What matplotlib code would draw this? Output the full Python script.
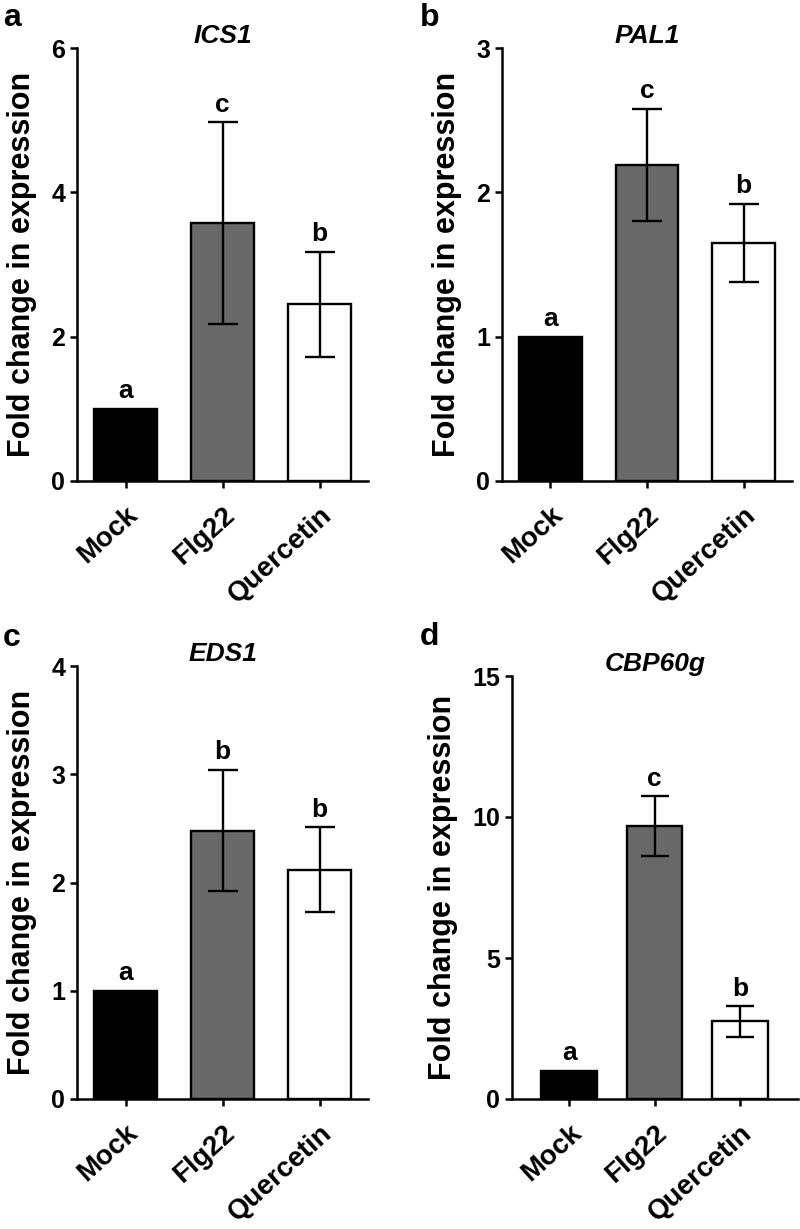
import numpy as np
import matplotlib
matplotlib.use("Agg")
import matplotlib.pyplot as plt

plt.rcParams['font.family'] = ['Liberation Sans', 'DejaVu Sans']
plt.rcParams['font.weight'] = 'bold'

# treatments and colours
groups = ['Mock', 'Flg22', 'Quercetin']
bar_colors = ['#000000', '#686868', '#ffffff']

# gene panels
panel_letters = ['a', 'b', 'c', 'd']
genes = ['ICS1', 'PAL1', 'EDS1', 'CBP60g']

ics1_mean = [1.0, 3.57, 2.45]
ics1_err = [0.0, 1.40, 0.73]
pal1_mean = [1.0, 2.19, 1.65]
pal1_err = [0.0, 0.39, 0.27]
eds1_mean = [1.0, 2.48, 2.12]
eds1_err = [0.0, 0.56, 0.39]
cbp60g_mean = [1.0, 9.68, 2.75]
cbp60g_err = [0.0, 1.06, 0.54]

ics1_sig = ['a', 'c', 'b']
pal1_sig = ['a', 'c', 'b']
eds1_sig = ['a', 'b', 'b']
cbp60g_sig = ['a', 'c', 'b']

ics1_ticks = [0, 2, 4, 6]
pal1_ticks = [0, 1, 2, 3]
eds1_ticks = [0, 1, 2, 3, 4]
cbp60g_ticks = [0, 5, 10, 15]

means = [ics1_mean, pal1_mean, eds1_mean, cbp60g_mean]
errs = [ics1_err, pal1_err, eds1_err, cbp60g_err]
sigs = [ics1_sig, pal1_sig, eds1_sig, cbp60g_sig]
yticks = [ics1_ticks, pal1_ticks, eds1_ticks, cbp60g_ticks]

W, H = 800, 1229
fig = plt.figure(figsize=(W / 100, H / 100), dpi=100)

# axes boxes in pixels: left, top, right, bottom
boxes = [(77, 48, 368, 481), (502, 48, 792, 481),
         (77, 666, 368, 1099), (512, 676, 798, 1099)]
xlims = [(-0.5, 2.5), (-0.5, 2.5), (-0.5, 2.5), (-0.67, 2.68)]
letter_pos = [(3, 18), (420, 18), (3, 638), (420, 637)]
caps = [11, 11, 11, 10]

for i in range(4):
    l, t, r, b = boxes[i]
    ax = fig.add_axes([l / W, 1 - b / H, (r - l) / W, (b - t) / H])
    x = np.arange(len(groups))
    ax.bar(x, means[i], width=0.65, color=bar_colors, edgecolor='black',
           linewidth=1.7, zorder=2)
    e = np.array(errs[i])
    m = np.array(means[i])
    has = e > 0
    ax.errorbar(x[has], m[has], yerr=e[has], fmt='none', ecolor='black',
                elinewidth=1.7, capsize=caps[i], capthick=1.7, zorder=3)
    for j in range(len(groups)):
        ax.annotate(sigs[i][j], (x[j], m[j] + e[j]), xytext=(0, 4),
                    textcoords='offset points', ha='center', va='bottom',
                    fontsize=19, fontweight='bold')
    ax.set_xlim(*xlims[i])
    ax.set_ylim(0, yticks[i][-1])
    ax.set_yticks(yticks[i])
    ax.set_xticks(x)
    ax.set_xticklabels(groups, rotation=42, ha='right', rotation_mode='anchor',
                       fontsize=20, fontweight='bold')
    ax.tick_params(axis='y', labelsize=18, width=1.8, length=5)
    ax.tick_params(axis='x', width=1.8, length=5, pad=10)
    for lab in ax.get_yticklabels():
        lab.set_fontweight('bold')
    for s in ['top', 'right']:
        ax.spines[s].set_visible(False)
    for s in ['left', 'bottom']:
        ax.spines[s].set_linewidth(1.8)
    ax.set_ylabel('Fold change in expression', fontsize=22, fontweight='bold',
                  labelpad=10)
    ax.set_title(genes[i], fontsize=19, fontweight='bold', style='italic', pad=1)
    fig.text(letter_pos[i][0] / W, 1 - letter_pos[i][1] / H, panel_letters[i],
             fontsize=23, fontweight='bold', ha='left', va='center')

fig.savefig('out.png', dpi=100)
